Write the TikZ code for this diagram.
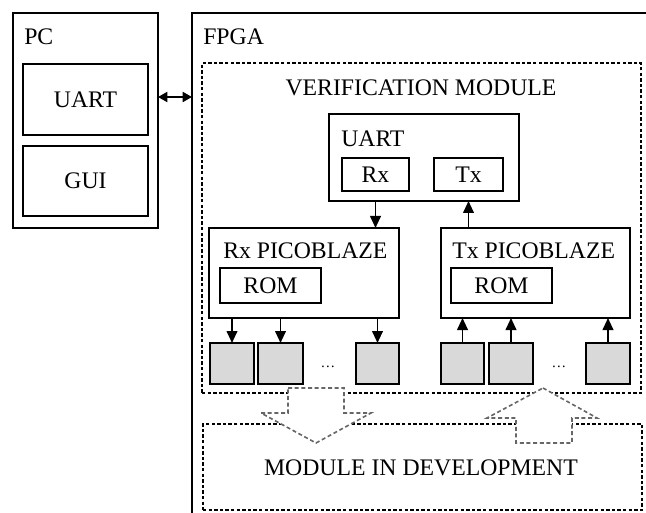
\documentclass[tikz,border=0pt]{standalone}
\usepackage{fontspec}
\setmainfont{Liberation Serif}
\usetikzlibrary{arrows.meta, fit, calc}
\tikzset{
  blk/.style  = {draw=black, line width=1.4pt, inner sep=0pt, outer sep=0pt},
  dsh/.style  = {draw=black, line width=1.3pt, dash pattern=on 2.6pt off 1.6pt,
                 inner sep=0pt, outer sep=0pt},
  cell/.style = {blk, fill=black!15},
  ttl/.style  = {anchor=base west, inner sep=0pt},
  ctr/.style  = {anchor=base, inner sep=0pt},
  mid/.style  = {anchor=center, inner sep=0pt},
  arr/.style  = {-{Triangle[length=9pt,width=8pt]}, line width=1.4pt},
  dblarr/.style = {{Triangle[length=7pt,width=7.5pt]}-{Triangle[length=7pt,width=7.5pt]},
                  line width=1.4pt},
  bigarr/.style = {fill=white, draw=black!60, line width=1.2pt,
                   dash pattern=on 3pt off 2pt}
}

\begin{document}
\begin{tikzpicture}[x=0.75pt, y=-0.75pt, font=\fontsize{17.8}{20}\selectfont]
  \useasboundingbox (0,0) rectangle (646,513);

  %% PC side
  \node[blk, fit={(13,13) (158,228)}] (pc) {};
  \node[ttl] (pclbl) at (24,45) {PC};
  \node[blk, fit={(23,64) (148,135)}] (pcuart) {};
  \node[mid] (pcuartlbl) at (pcuart) {UART};
  \node[blk, fit={(23,146) (148,216)}] (gui) {};
  \node[mid] (guilbl) at (gui) {GUI};

  %% FPGA (runs off the page)
  \node[blk, fit={(192,13) (720,580)}] (fpga) {};
  \node[ttl] (fpgalbl) at (203,45) {FPGA};

  %% Link PC <-> FPGA
  \draw[dblarr] (pc.east |- 0,97) -- (fpga.west |- 0,97);

  %% Verification module
  \node[dsh, fit={(202,63) (641,393)}] (verif) {};
  \node[ctr] (veriflbl) at (421,96) {VERIFICATION MODULE};

  \node[blk, fit={(329,114) (519,201)}] (vuart) {};
  \node[ttl] (vuartlbl) at (341,147) {UART};
  \node[blk, fit={(342,158) (409,191)}] (rx) {};
  \node[mid] (rxlbl) at (rx) {Rx};
  \node[blk, fit={(434,158) (503,191)}] (tx) {};
  \node[mid] (txlbl) at (tx) {Tx};

  %% PicoBlazes
  \node[blk, fit={(209,228) (399,318)}] (rxpb) {};
  \node[ttl] (rxpblbl) at (223,259) {Rx PICOBLAZE};
  \node[blk, fit={(220,268) (321,303)}] (rxrom) {};
  \node[mid] (rxromlbl) at (rxrom) {ROM};

  \node[blk, fit={(441,228) (630,318)}] (txpb) {};
  \node[ttl] (txpblbl) at (452,259) {Tx PICOBLAZE};
  \node[blk, fit={(451,268) (552,303)}] (txrom) {};
  \node[mid] (txromlbl) at (txrom) {ROM};

  \draw[arr] (rx.south |- vuart.south) -- (rx.south |- rxpb.north);
  \draw[arr] (tx.south |- txpb.north) -- (tx.south |- vuart.south);

  %% Ports
  \node[cell, fit={(210,343) (254,384)}] (rxa) {};
  \node[cell, fit={(258,343) (303,384)}] (rxb) {};
  \node[cell, fit={(356,343) (399,384)}] (rxn) {};
  \node[ctr, font=\fontsize{11}{12}\selectfont] (rxdots) at (328,367) {…};

  \node[cell, fit={(441,343) (484,384)}] (txa) {};
  \node[cell, fit={(489,343) (533,384)}] (txb) {};
  \node[cell, fit={(586,343) (630,384)}] (txn) {};
  \node[ctr, font=\fontsize{11}{12}\selectfont] (txdots) at (559,367) {…};

  \draw[arr] (rxa.north |- rxpb.south) -- (rxa.north);
  \draw[arr] (rxb.north |- rxpb.south) -- (rxb.north);
  \draw[arr] (rxn.north |- rxpb.south) -- (rxn.north);

  \draw[arr] (txa.north) -- (txa.north |- txpb.south);
  \draw[arr] (txb.north) -- (txb.north |- txpb.south);
  \draw[arr] (txn.north) -- (txn.north |- txpb.south);

  %% Module in development
  \node[dsh, fit={(203,424) (642,510)}] (dev) {};
  \node[ctr] (devlbl) at (421,475) {MODULE IN DEVELOPMENT};

  %% Big data arrows
  \draw[bigarr] (288,388) -- (344,388) -- (344,413) -- (371,413)
    -- (316,443) -- (261,413) -- (288,413) -- cycle;
  \draw[bigarr] (543,388) -- (597,418) -- (572,418) -- (572,443)
    -- (516,443) -- (516,418) -- (487,418) -- cycle;

\end{tikzpicture}
\end{document}
